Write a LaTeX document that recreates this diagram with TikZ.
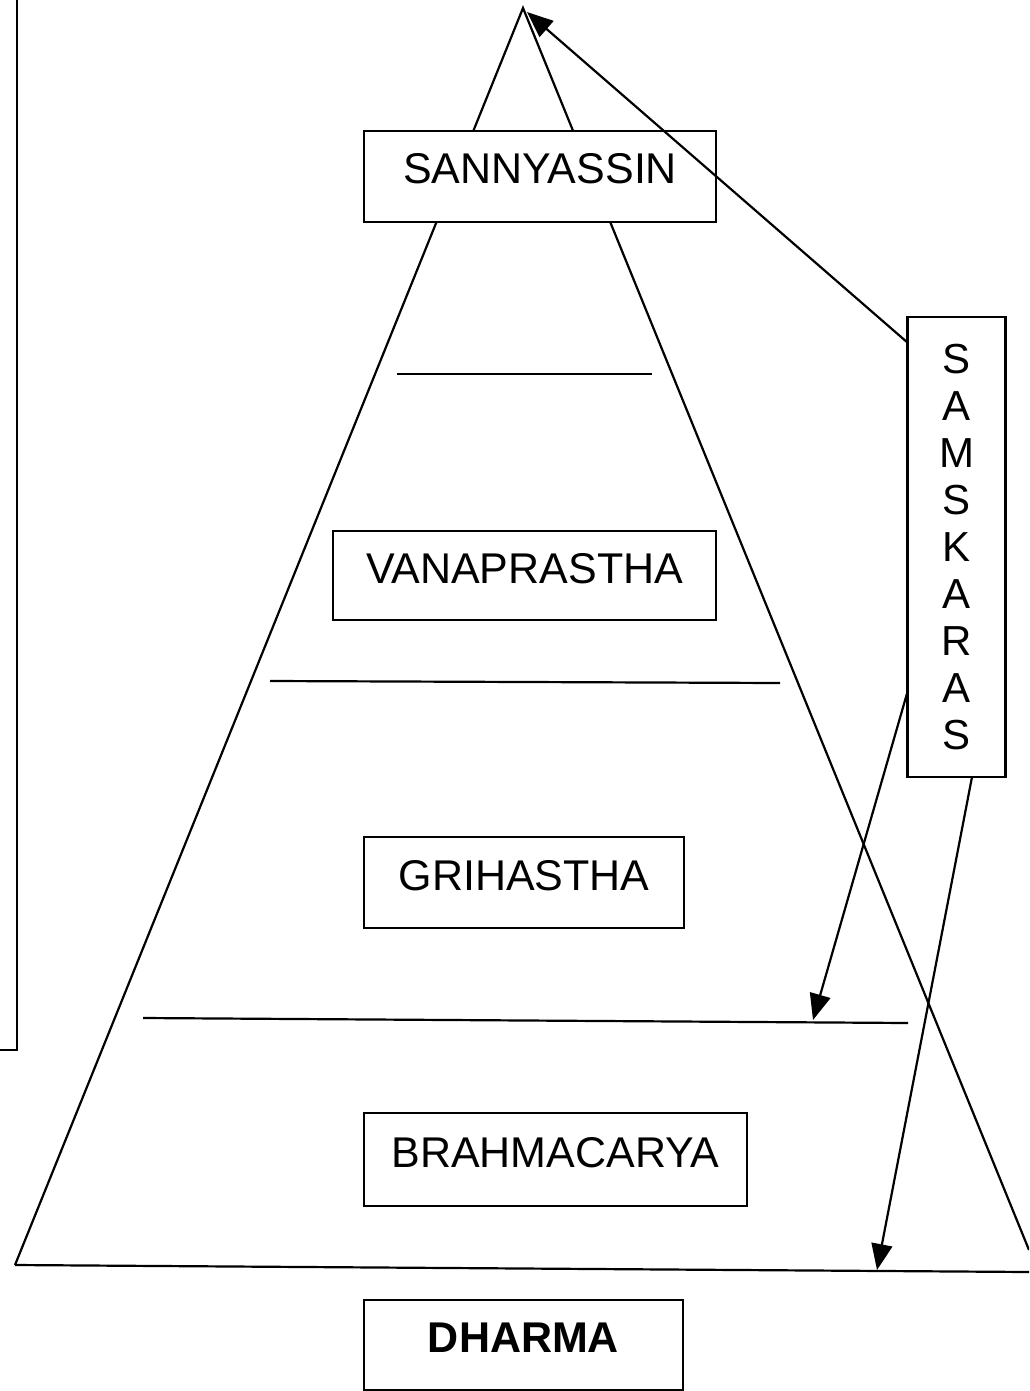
\documentclass[tikz,border=0pt]{standalone}
\usepackage{fontspec}
\setmainfont{Liberation Sans}
\usetikzlibrary{arrows.meta}
\begin{document}
\begin{tikzpicture}[x=1pt,y=-1pt,
  ln/.style={line width=2.2pt,black},
  box/.style={draw,line width=2.2pt,fill=white,inner sep=0pt,text height=30pt,text depth=15pt,font=\fontsize{43}{50}\selectfont},
  arr/.style={line width=2.2pt,-{Triangle[length=26pt,width=21pt]}}]
\useasboundingbox (0,0) rectangle (1029,1391);
\clip (0,0) rectangle (1029,1391);
% coordinates
\coordinate (apex) at (523,8);
\coordinate (bl) at (15,1265);
\coordinate (br) at (1029,1250);
\coordinate (bbr) at (1029,1272);
% left bracket
\coordinate (lb1) at (17,0);
\coordinate (lb2) at (17,1050);
\coordinate (lb3) at (0,1050);
\draw[ln] (lb1) -- (lb2) -- (lb3);
% pyramid
\draw[ln] (bl) -- (apex) -- (br);
\draw[ln] (bl) -- (bbr);
% divider lines
\coordinate (h1a) at (397,374); \coordinate (h1b) at (652,374);
\coordinate (h2a) at (270,681); \coordinate (h2b) at (780,683);
\coordinate (h3a) at (143,1018); \coordinate (h3b) at (908,1023);
\draw[ln] (h1a) -- (h1b);
\draw[ln] (h2a) -- (h2b);
\draw[ln] (h3a) -- (h3b);
% boxes
\node[box,minimum width=352pt,minimum height=91pt] (sann) at (540,176.5) {SANNYASSIN};
\node[box,minimum width=383pt,minimum height=89pt] (vana) at (524.5,575.5) {VANAPRASTHA};
\node[box,minimum width=320pt,minimum height=91pt] (gri) at (524,882.5) {GRIHASTHA};
\node[box,minimum width=383pt,minimum height=93pt] (brah) at (555.5,1159.5) {BRAHMACARYA};
\node[box,minimum width=319pt,minimum height=90pt,font=\fontsize{43}{50}\selectfont\bfseries] (dhar) at (523.5,1345) {DHARMA};
\node[draw,line width=2.2pt,fill=white,inner sep=0pt,minimum width=98pt,minimum height=460pt,align=center,font=\fontsize{42}{47}\selectfont] (samsk) at (956.5,547) {S\\A\\M\\S\\K\\A\\R\\A\\S};
% arrow end points
\coordinate (s1) at (908,343);
\coordinate (t1) at (527,12);
\coordinate (s2) at (908,690);
\coordinate (t2) at (813,1020);
\coordinate (s3) at (972,777);
\coordinate (t3) at (877,1270);
\draw[arr] (s1) -- (t1);
\draw[arr] (s2) -- (t2);
\draw[arr] (s3) -- (t3);
\end{tikzpicture}
\end{document}
